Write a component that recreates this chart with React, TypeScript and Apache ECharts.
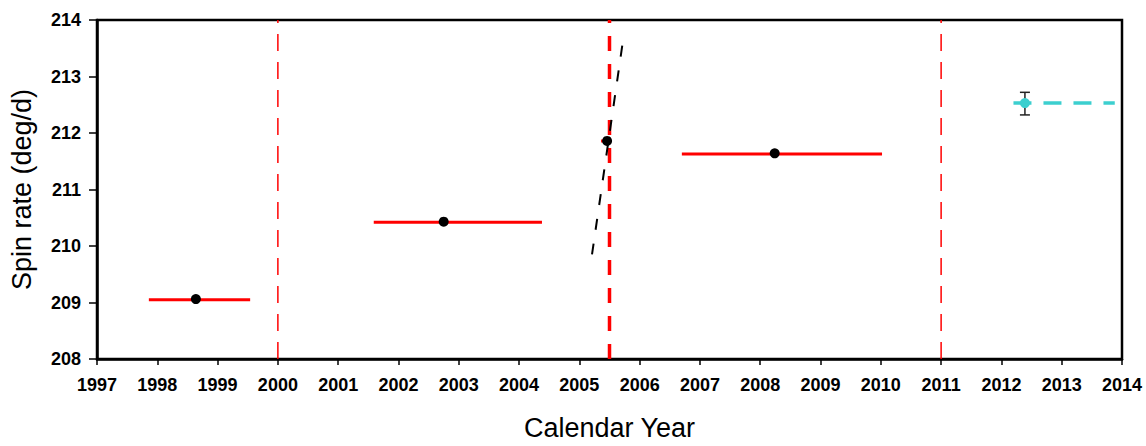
import React, { useEffect, useRef } from "react";
import * as echarts from "echarts";

// Fit segments: [startYear, endYear, spinRate]
const fitSegments: [number, number, number][] = [
  [1997.86, 1999.54, 209.05],
  [2001.59, 2004.38, 210.42],
  [2006.7, 2010.02, 211.63],
];
// Mid-point measurements: [year, spinRate]
const midPoints: [number, number][] = [
  [1998.64, 209.06],
  [2002.75, 210.43],
  [2005.46, 211.86],
  [2008.24, 211.64],
];
// Short red segment at the 2005 point
const shortSegment: [number, number, number] = [2005.36, 2005.5, 211.86];
// Event lines (years)
const thinEvents = [2000, 2011];
const thickEvent = 2005.5;
// Slanted trend through 2005 point: [year, spinRate]
const trendLine: [number, number][] = [
  [2005.21, 209.85],
  [2005.72, 213.61],
];
// 2012 measurement: [year, value, low, high]
const newPoint: [number, number, number, number] = [2012.39, 212.53, 212.32, 212.72];
const newLineEnd = 2013.88;
const newLineStart = 2012.2;

const xTicks = { min: 1997, max: 2014, step: 1 };
const yTicks = { min: 208, max: 214, step: 1 };

const RED = "#ff0000";
const CYAN = "#3ccfcf";
const FONT = "Liberation Sans, Arial, sans-serif";

export default function App() {
  const ref = useRef<HTMLDivElement>(null);
  useEffect(() => {
    if (!ref.current) return;
    const chart = echarts.init(ref.current, null, { renderer: "svg" });
    const series: any[] = [];
    thinEvents.forEach((x) => {
      series.push({
        type: "line",
        data: [[x, yTicks.min], [x, yTicks.max]],
        symbol: "none",
        lineStyle: { color: RED, width: 1.5, type: [17, 11] },
        z: 2,
      });
    });
    series.push({
      type: "line",
      data: [[thickEvent, yTicks.min], [thickEvent, yTicks.max]],
      symbol: "none",
      lineStyle: { color: RED, width: 3.5, type: [15, 13] },
      z: 2,
    });
    fitSegments.forEach(([a, b, y]) => {
      series.push({
        type: "line",
        data: [[a, y], [b, y]],
        symbol: "none",
        lineStyle: { color: RED, width: 3 },
        z: 3,
      });
    });
    series.push({
      type: "line",
      data: [[shortSegment[0], shortSegment[2]], [shortSegment[1], shortSegment[2]]],
      symbol: "none",
      lineStyle: { color: RED, width: 3 },
      z: 3,
    });
    series.push({
      type: "line",
      data: trendLine,
      symbol: "none",
      lineStyle: { color: "#000", width: 2, type: [11, 14] },
      z: 4,
    });
    series.push({
      type: "line",
      data: [[newLineStart, newPoint[1]], [newLineEnd, newPoint[1]]],
      symbol: "none",
      lineStyle: { color: CYAN, width: 3.5, type: [18, 12] },
      z: 3,
    });
    series.push({
      type: "custom",
      data: [[newPoint[0], newPoint[2], newPoint[3]]],
      renderItem: (params: any, api: any) => {
        const lo = api.coord([api.value(0), api.value(1)]);
        const hi = api.coord([api.value(0), api.value(2)]);
        const w = 5;
        const s = { stroke: "#222", lineWidth: 1.5 };
        return {
          type: "group",
          children: [
            { type: "line", shape: { x1: lo[0], y1: lo[1], x2: hi[0], y2: hi[1] }, style: s },
            { type: "line", shape: { x1: lo[0] - w, y1: lo[1], x2: lo[0] + w, y2: lo[1] }, style: s },
            { type: "line", shape: { x1: hi[0] - w, y1: hi[1], x2: hi[0] + w, y2: hi[1] }, style: s },
          ],
        };
      },
      z: 4,
    });
    series.push({
      type: "scatter",
      data: [[newPoint[0], newPoint[1]]],
      symbol: "circle",
      symbolSize: 10,
      itemStyle: { color: CYAN, opacity: 1 },
      z: 5,
    });
    series.push({
      type: "scatter",
      data: midPoints,
      symbol: "circle",
      symbolSize: 10,
      itemStyle: { color: "#000", opacity: 1 },
      z: 6,
    });

    chart.setOption({
      animation: false,
      backgroundColor: "#fff",
      grid: {
        left: 97,
        top: 20,
        right: 24,
        bottom: 86,
        show: true,
        borderColor: "#000",
        borderWidth: 2.5,
        backgroundColor: "transparent",
      },
      xAxis: {
        type: "value",
        min: xTicks.min,
        max: xTicks.max,
        interval: xTicks.step,
        name: "Calendar Year",
        nameLocation: "middle",
        nameGap: 55,
        nameTextStyle: { fontFamily: FONT, fontSize: 27, color: "#000" },
        axisLine: { show: true, onZero: false, lineStyle: { color: "#000", width: 2.5 } },
        axisTick: { show: true, inside: false, length: 6, lineStyle: { color: "#000", width: 1.5 } },
        axisLabel: {
          fontFamily: FONT,
          fontSize: 18,
          fontWeight: "bold",
          color: "#000",
          margin: 17,
          formatter: (v: number) => String(v),
        },
        splitLine: { show: false },
      },
      yAxis: {
        type: "value",
        min: yTicks.min,
        max: yTicks.max,
        interval: yTicks.step,
        name: "Spin rate (deg/d)",
        nameLocation: "middle",
        nameGap: 62,
        nameTextStyle: { fontFamily: FONT, fontSize: 27, color: "#000" },
        axisLine: { show: true, onZero: false, lineStyle: { color: "#000", width: 2.5 } },
        axisTick: { show: true, inside: false, length: 8, lineStyle: { color: "#000", width: 1.5 } },
        axisLabel: {
          fontFamily: FONT,
          fontSize: 18,
          fontWeight: "bold",
          color: "#000",
          margin: 16,
          formatter: (v: number) => String(v),
        },
        splitLine: { show: false },
      },
      series,
    });
    return () => chart.dispose();
  }, []);
  return (
    <div
      ref={ref}
      style={{ position: "fixed", left: 0, top: 0, width: 1146, height: 446, background: "#fff" }}
    />
  );
}
